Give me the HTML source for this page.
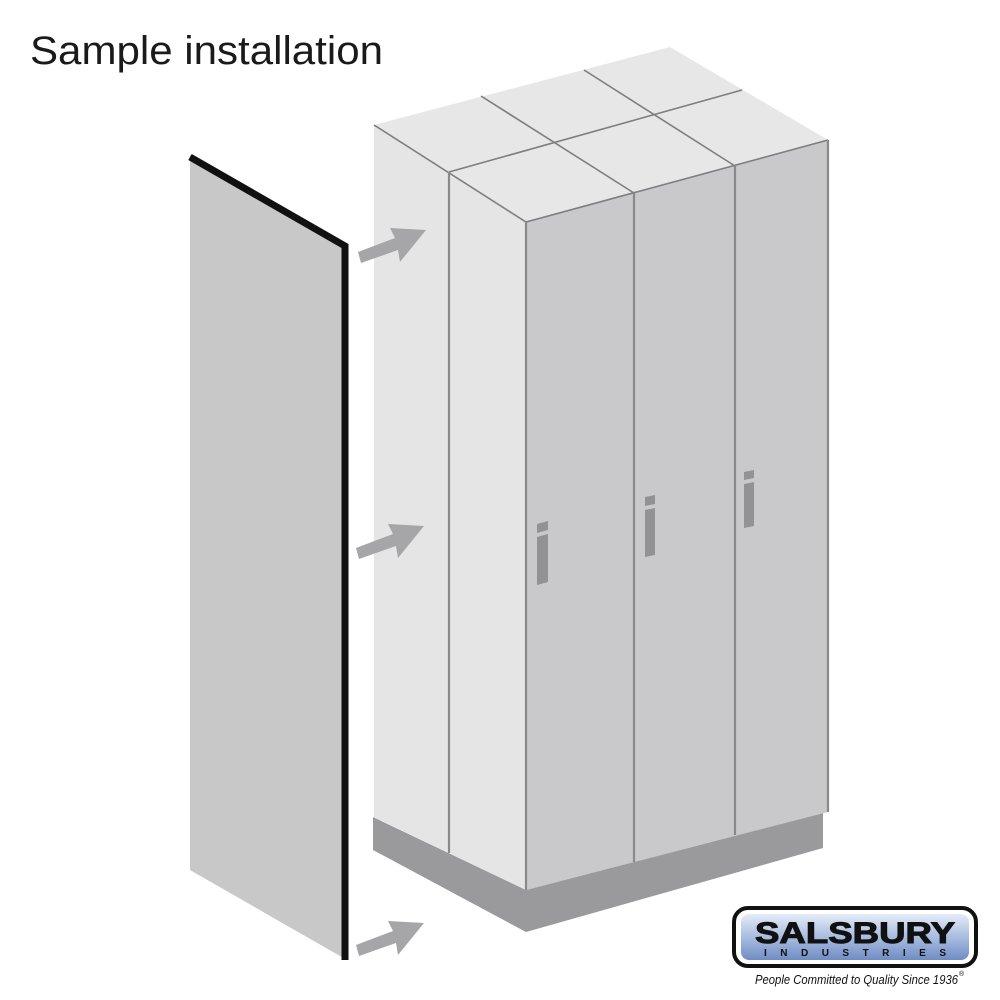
<!DOCTYPE html>
<html><head><meta charset="utf-8"><style>
html,body{margin:0;padding:0;background:#fff;width:1000px;height:1000px;overflow:hidden}
</style></head><body>
<svg width="1000" height="1000" viewBox="0 0 1000 1000" xmlns="http://www.w3.org/2000/svg">
<defs>
<linearGradient id="bl" x1="0" y1="0" x2="0" y2="1">
<stop offset="0" stop-color="#e4ecf8"/><stop offset="0.5" stop-color="#a9bde0"/><stop offset="1" stop-color="#6f8cc4"/>
</linearGradient>
</defs>
<text x="30" y="64" font-family="Liberation Sans, sans-serif" font-size="40" fill="#1a1a1a" textLength="353" lengthAdjust="spacingAndGlyphs">Sample installation</text>

<polygon points="190,155 347,245 347,960 190,870" fill="#c8c8c8"/>
<polyline points="190,157 345,246 345,960" fill="none" stroke="#111" stroke-width="7"/>

<polygon points="373,817 526,890 823,812 823,848 526,932 373,850" fill="#9a9a9c"/>

<polygon points="374,125 526,222 526,890 374,817" fill="#e5e5e6"/>
<polygon points="526,222 828,140 828,812 526,890" fill="#c9c9cb"/>
<polygon points="374,125 670,47 828,140 526,222" fill="#e7e7e8"/>
<g stroke="#7e7e80" stroke-width="1.6" fill="none">
<line x1="481" y1="96" x2="634" y2="193"/>
<line x1="584" y1="70" x2="735" y2="166"/>
<line x1="449" y1="172" x2="742" y2="90"/>
<polyline points="374,125 526,222 828,140"/>
</g>
<g stroke="#8a8a8c" stroke-width="2.2">
<line x1="449" y1="172" x2="449" y2="853"/>
<line x1="634" y1="193" x2="634" y2="862"/>
<line x1="735" y1="166" x2="735" y2="835"/>
<line x1="526" y1="222" x2="526" y2="890"/>
<line x1="828" y1="140" x2="828" y2="812"/>
</g>
<g fill="#929294">
<polygon points="537,524 548,521 548,530 537,533"/>
<polygon points="537,537 548,534 548,582 537,585"/>
<polygon points="645,497 655,495 655,504 645,506"/>
<polygon points="645,510 655,508 655,555 645,557"/>
<polygon points="744,472 754,470 754,478 744,480"/>
<polygon points="744,484 754,482 754,526 744,528"/>
</g>

<g fill="#a6a6a8">
<polygon points="358,252 395,238 390,228 426,230 400,262 398,250 361,263"/>
<polygon points="356,548 393,534 388,524 424,526 398,558 396,546 359,559"/>
<polygon points="356,945 393,931 388,921 424,923 398,955 396,943 359,956"/>
</g>

<rect x="734" y="908" width="242" height="58" rx="14" fill="#fff" stroke="#111" stroke-width="4"/>
<rect x="741" y="914" width="228" height="46" rx="8" fill="url(#bl)"/>
<text x="855" y="943" text-anchor="middle" font-family="Liberation Sans, sans-serif" font-weight="bold" font-size="30" fill="#111" stroke="#111" stroke-width="1" textLength="200" lengthAdjust="spacingAndGlyphs">SALSBURY</text>
<text x="855" y="956" text-anchor="middle" font-family="Liberation Sans, sans-serif" font-weight="bold" font-size="10" fill="#111" textLength="182" lengthAdjust="spacing">INDUSTRIES</text>
<text x="755" y="984" font-family="Liberation Sans, sans-serif" font-style="italic" font-size="12.5" fill="#111" textLength="203" lengthAdjust="spacingAndGlyphs">People Committed to Quality Since 1936</text>
<text x="959" y="976" font-family="Liberation Sans, sans-serif" font-size="7" fill="#111">®</text>
</svg>
</body></html>
